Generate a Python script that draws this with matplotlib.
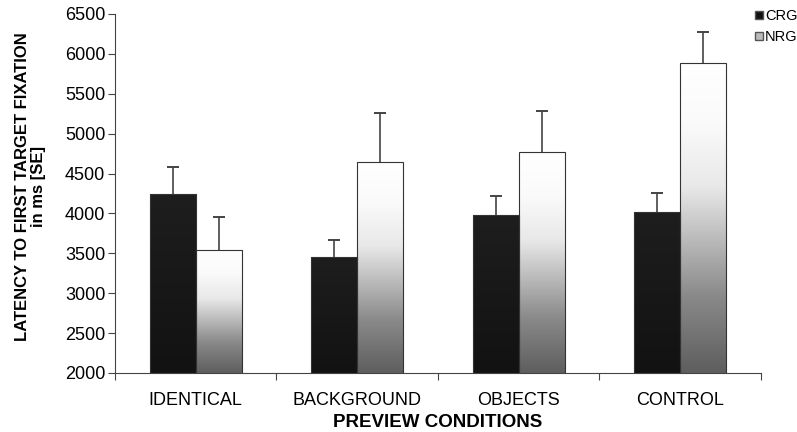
import numpy as np
import matplotlib.pyplot as plt
from matplotlib.colors import LinearSegmentedColormap
from matplotlib.patches import Patch

plt.rcParams['font.family'] = ['Liberation Sans', 'DejaVu Sans']

condicoes = ['IDENTICAL', 'BACKGROUND', 'OBJECTS', 'CONTROL']
crg = [4245, 3450, 3980, 4020]
crg_se = [340, 215, 235, 230]
nrg = [3545, 4648, 4768, 5880]
nrg_se = [405, 605, 518, 395]

fig = plt.figure(figsize=(7.97, 4.32), dpi=100)
ax = fig.add_axes([0.1443, 0.1366, 0.8105, 0.831])

x = np.arange(len(condicoes))
largura = 0.286

barras_crg = ax.bar(x - largura / 2, crg, largura, color='none',
                    edgecolor='#333333', linewidth=0.8, zorder=3)
barras_nrg = ax.bar(x + largura / 2, nrg, largura, color='none',
                    edgecolor='#333333', linewidth=0.8, zorder=3)

# barras de erro so para cima
for pos, val, se in [(x - largura / 2, crg, crg_se), (x + largura / 2, nrg, nrg_se)]:
    topo = np.array(val) + np.array(se)
    ax.vlines(pos, val, topo, color='#444444', linewidth=1.2, zorder=2)
    ax.plot(pos, topo, ls='none', marker='_', markersize=8, markeredgewidth=1.4,
            color='#444444', zorder=2)

# gradientes das barras
cmap_crg = LinearSegmentedColormap.from_list('crg', ['#121212', '#1e1e1e'])
cmap_nrg = LinearSegmentedColormap.from_list(
    'nrg', [(0, '#5e5e5e'), (0.25, '#8a8a8a'), (0.6, '#e8e8e8'), (0.8, '#fafafa'), (1, '#ffffff')])
grad = np.linspace(0, 1, 256).reshape(-1, 1)
for barras, cmap in [(barras_crg, cmap_crg), (barras_nrg, cmap_nrg)]:
    for b in barras:
        x0 = b.get_x()
        x1 = x0 + b.get_width()
        im = ax.imshow(grad, cmap=cmap, extent=[x0, x1, 2000, b.get_height()],
                       origin='lower', aspect='auto', zorder=2.5)
        im.set_clip_path(b)

ax.set_xlim(-0.5, 3.5)
ax.set_ylim(2000, 6500)

ax.spines['top'].set_visible(False)
ax.spines['right'].set_visible(False)
ax.spines['left'].set_color('#444444')
ax.spines['bottom'].set_color('#444444')

ax.set_yticks(np.arange(2000, 6501, 500))
ax.tick_params(axis='y', labelsize=13, length=5, color='#444444', pad=2)
ax.set_xticks([-0.5, 0.5, 1.5, 2.5, 3.5])
ax.set_xticklabels([])
ax.tick_params(axis='x', length=5, color='#444444')
ax.set_xticks(x, minor=True)
ax.set_xticklabels(condicoes, minor=True)
ax.tick_params(axis='x', which='minor', length=0, labelsize=13, pad=14)

ax.set_xlabel('PREVIEW CONDITIONS', fontsize=13.5, fontweight='bold')
ax.xaxis.set_label_coords(0.5, -0.113)
ax.set_ylabel('LATENCY TO FIRST TARGET FIXATION\nin ms [SE]', fontsize=12,
              fontweight='bold', linespacing=1.05)
ax.yaxis.set_label_coords(-0.107, 0.52)

handles = [Patch(facecolor='#111111', edgecolor='#555555'),
           Patch(facecolor='#bbbbbb', edgecolor='#555555')]
fig.legend(handles, ['CRG', 'NRG'], loc='upper left', bbox_to_anchor=(0.936, 1.0),
           frameon=False, fontsize=10.5, handlelength=0.5, handleheight=0.5,
           handletextpad=0.15, labelspacing=0.45, borderpad=0.15)

plt.savefig('out.png', dpi=100)
